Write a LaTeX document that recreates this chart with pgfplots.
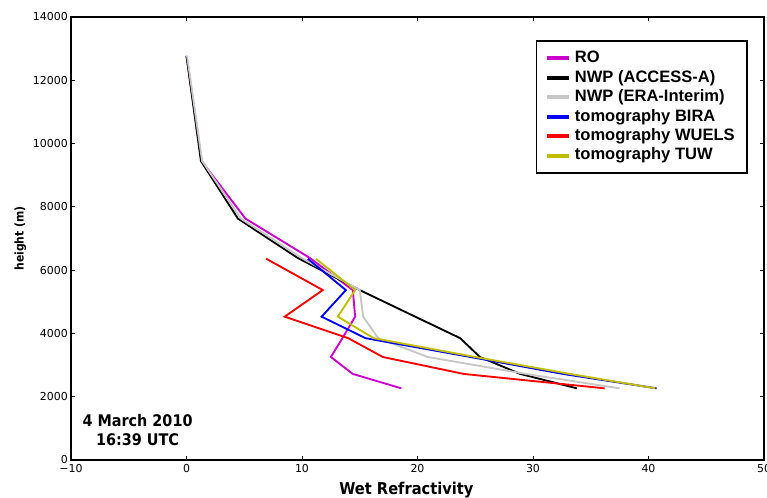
\documentclass[border=0pt]{standalone}
\usepackage{pgfplots}
\pgfplotsset{compat=1.18}
\usepackage{fontspec}
\setmainfont{DejaVu Sans}
\newfontfamily\legfont{Liberation Sans}
\newfontfamily\condfont{DejaVu Sans Condensed}
\definecolor{mpm}{rgb}{0.8,0,0.8}
\definecolor{mpy}{rgb}{0.75,0.75,0}
\definecolor{mpgray}{rgb}{0.78,0.78,0.78}
\begin{document}
\begin{tikzpicture}
\begin{axis}[
  scale only axis, width=519.75pt, height=332.25pt,
  xmin=-10, xmax=50, ymin=0, ymax=14000,
  xtick={-10,0,10,20,30,40,50},
  xticklabels={−10,0,10,20,30,40,50},
  ytick={0,2000,4000,6000,8000,10000,12000,14000},
  yticklabels={0,2000,4000,6000,8000,10000,12000,14000},
  scaled y ticks=false,
  tick align=inside, major tick length=3pt,
  tick style={black, line width=0.6pt},
  axis line style={line width=0.8pt},
  ticklabel style={font=\fontsize{8.2}{9}\selectfont},
  xticklabel style={inner ysep=3pt},
  yticklabel style={inner xsep=2.25pt},
  xlabel={Wet Refractivity}, ylabel={height (m)},
  every axis x label/.style={at={(axis description cs:0.484,-0.0774)}, anchor=base, font=\condfont\bfseries\fontsize{12.2}{13}\selectfont},
  every axis y label/.style={at={(axis description cs:-0.0729,0.5)}, anchor=center, rotate=90, font=\condfont\bfseries\fontsize{9}{10}\selectfont},
  legend cell align=left,
  legend image code/.code={\draw[#1, line width=3pt] (0pt,0pt) -- (16.5pt,0pt);},
  legend style={at={(0.977,0.948)}, anchor=north east, draw=black, line width=1.2pt,
    inner xsep=6.8pt, inner ysep=5.8pt, row sep=0pt,
    font=\legfont\bfseries\fontsize{12.4}{14}\selectfont,
    nodes={inner xsep=2.6pt, inner ysep=1.55pt, text height=9pt, text depth=2.5pt}},
]
\coordinate (sw) at (rel axis cs:0,0);
\coordinate (ne) at (rel axis cs:1,1);
\addplot[mpm, line width=1.4pt] coordinates {
(0.0,12770) (1.3,9450) (5.1,7630) (10.7,6380) (14.4,5370) (14.6,4530) (13.5,3850) (12.5,3255) (14.4,2720) (18.6,2265)};
\addlegendentry{RO}
\addplot[black, line width=1.4pt] coordinates {
(0.0,12770) (1.25,9450) (4.45,7630) (9.65,6380) (15.0,5370) (19.8,4530) (23.7,3850) (25.4,3255) (28.9,2720) (33.8,2265)};
\addlegendentry{NWP (ACCESS-A)}
\addplot[mpgray, line width=1.4pt] coordinates {
(0.05,12770) (1.35,9450) (4.7,7630) (10.0,6380) (15.0,5370) (15.3,4530) (16.6,3850) (20.9,3255) (29.4,2720) (37.5,2265)};
\addlegendentry{NWP (ERA-Interim)}
\addplot[blue, line width=1.4pt] coordinates {
(10.5,6360) (13.8,5370) (11.7,4530) (15.5,3850) (24.6,3255) (32.6,2720) (40.7,2265)};
\addlegendentry{tomography BIRA}
\addplot[red, line width=1.4pt] coordinates {
(6.9,6360) (11.8,5370) (8.5,4530) (14.0,3850) (17.0,3255) (24.0,2720) (36.2,2265)};
\addlegendentry{tomography WUELS}
\addplot[mpy, line width=1.4pt] coordinates {
(11.2,6360) (14.6,5370) (13.1,4530) (16.2,3850) (25.0,3255) (33.2,2720) (40.6,2265)};
\addlegendentry{tomography TUW}
\node[anchor=base, font=\condfont\bfseries\fontsize{12}{13}\selectfont] at (axis cs:-4.24,1052) {4 March 2010};
\node[anchor=base, font=\condfont\bfseries\fontsize{12}{13}\selectfont] at (axis cs:-4.24,474) {16:39 UTC};
\end{axis}
\pgfresetboundingbox
\path[use as bounding box] ([shift={(-53.25pt,-27.75pt)}]sw) rectangle ([shift={(2.25pt,12.75pt)}]ne);
\end{tikzpicture}
\end{document}
